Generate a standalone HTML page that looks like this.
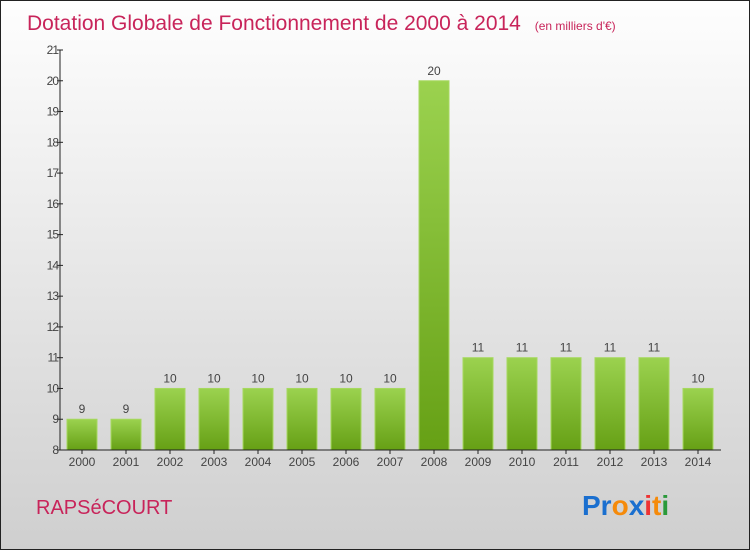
<!DOCTYPE html>
<html><head><meta charset="utf-8"><style>
body{margin:0}
#c{position:relative;width:748px;height:548px;border:1px solid #222;background:linear-gradient(#fefefe,#cfcfcf);font-family:"Liberation Sans",sans-serif;overflow:hidden}
</style></head><body>
<div id="c">
<svg width="748" height="548" viewBox="1 1 748 548" style="position:absolute;left:0;top:0">
<defs><linearGradient id="g" x1="0" y1="0" x2="0" y2="1"><stop offset="0" stop-color="#9bd24f"/><stop offset="1" stop-color="#66a015"/></linearGradient></defs>
<text x="27" y="30" font-size="21" fill="#c8245a">Dotation Globale de Fonctionnement de 2000 à 2014 <tspan font-size="12" dx="8">(en milliers d'€)</tspan></text>
<g id="plot"></g>
<text x="36" y="514" font-size="20" fill="#c8245a">RAPSéCOURT</text>
<text x="582" y="515" font-size="28" font-weight="bold"><tspan fill="#1a6fcf">Pr</tspan><tspan fill="#f58a0a">o</tspan><tspan fill="#1a6fcf">x</tspan><tspan fill="#e33">i</tspan><tspan fill="#f58a0a">t</tspan><tspan fill="#2a9a3a">i</tspan></text>
</svg>
</div>
<script>
const categories=["2000","2001","2002","2003","2004","2005","2006","2007","2008","2009","2010","2011","2012","2013","2014"];
const values=[9,9,10,10,10,10,10,10,20,11,11,11,11,11,10];
const yTicks=[8,9,10,11,12,13,14,15,16,17,18,19,20,21];
const NS="http://www.w3.org/2000/svg";
const g=document.getElementById('plot');
const y=v=>450-(v-8)*(400/13);
const x=i=>82+i*44;
function mk(t,a,txt){const e=document.createElementNS(NS,t);for(const k in a)e.setAttribute(k,a[k]);if(txt!==undefined)e.textContent=txt;g.appendChild(e);return e;}
categories.forEach((c,i)=>{
 const b=mk('rect',{x:x(i)-15,y:y(values[i]),width:30,height:450-y(values[i]),fill:'url(#g)',stroke:'#a6d85f','stroke-width':1});
 
 
 const l=mk('text',{x:x(i),y:y(values[i])-6,'text-anchor':'middle','font-size':12,fill:'#444'},values[i]);
 
 
 const t=mk('line',{x1:x(i),x2:x(i),y1:450,y2:454,stroke:'#222'});
 
 
 const xl=mk('text',{x:x(i),y:466,'text-anchor':'middle','font-size':12,fill:'#444'},c);
 
 
});
yTicks.forEach(v=>{
 const t=mk('line',{x1:57,x2:63,y1:y(v),y2:y(v),stroke:'#222'});
 
 
 const l=mk('text',{x:58,y:y(v)+4,'text-anchor':'end','font-size':12,fill:'#444','letter-spacing':'-1'},v);
 
 
});
const ya=mk('line',{x1:60,x2:60,y1:50,y2:450,stroke:'#222'});


const xa=mk('line',{x1:60,x2:721,y1:450,y2:450,stroke:'#222'});


</script>
</body></html>
